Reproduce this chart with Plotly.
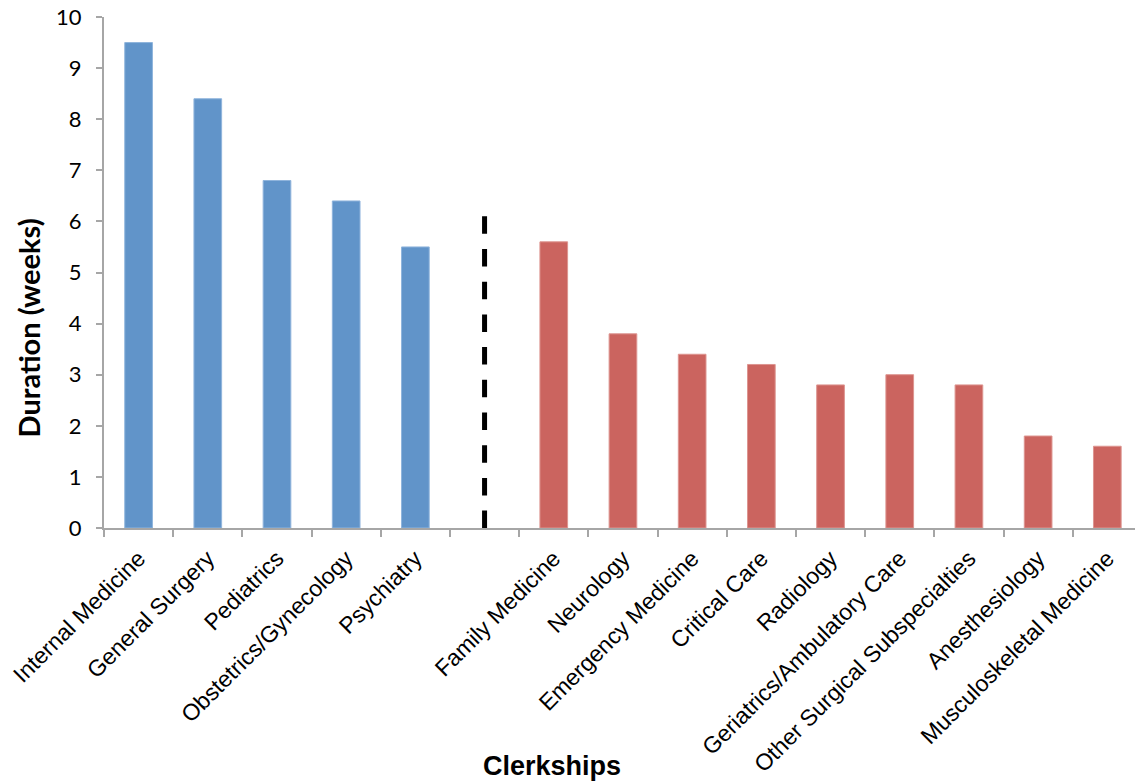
import plotly.graph_objects as go

core = ["Internal Medicine", "General Surgery", "Pediatrics", "Obstetrics/Gynecology", "Psychiatry"]
core_vals = [9.5, 8.4, 6.8, 6.4, 5.5]
gap_cat = " "
other = ["Family Medicine", "Neurology", "Emergency Medicine", "Critical Care", "Radiology",
         "Geriatrics/Ambulatory Care", "Other Surgical Subspecialties", "Anesthesiology",
         "Musculoskeletal Medicine"]
other_vals = [5.6, 3.8, 3.4, 3.2, 2.8, 3.0, 2.8, 1.8, 1.6]
divider_top = 6.1
y_ticks = list(range(0, 11))

categories = core + [gap_cat] + other

BLUE = "#6194c9"
RED = "#cb645f"
AXIS = "#a6a6a6"

fig = go.Figure()
fig.add_trace(go.Bar(x=core, y=core_vals, marker=dict(color=BLUE, line=dict(color="#8fb4dc", width=1)),
                     width=0.4, showlegend=False))
fig.add_trace(go.Bar(x=other, y=other_vals, marker=dict(color=RED, line=dict(color="#dd9590", width=1)),
                     width=0.4, showlegend=False))
fig.add_trace(go.Scatter(x=[gap_cat, gap_cat], y=[divider_top, 0], mode="lines",
                         line=dict(color="black", width=5, dash="17.5px,15.2px"), showlegend=False))

fig.update_layout(
    width=1135, height=783,
    margin=dict(l=104, r=0, t=17, b=255),
    plot_bgcolor="white", paper_bgcolor="white",
    barmode="overlay",
    xaxis=dict(type="category", categoryorder="array", categoryarray=categories,
               range=[-0.5, 14.4], tickson="boundaries", ticks="outside", ticklen=7,
               tickcolor=AXIS, tickwidth=2, showline=True, linecolor=AXIS, linewidth=2,
               tickangle=-45, showgrid=False, zeroline=False, ticklabelstandoff=6,
               tickfont=dict(family="Liberation Sans, Arial", size=23, color="black")),
    yaxis=dict(range=[0, 10], tickvals=y_ticks, ticks="outside", ticklen=6,
               tickcolor=AXIS, tickwidth=2, showline=True, linecolor=AXIS, linewidth=2,
               showgrid=False, zeroline=False, ticklabelstandoff=10,
               tickfont=dict(family="Lato", size=22, color="black")),
    annotations=[
        dict(text="<b>Duration (weeks)</b>", xref="paper", yref="paper", x=-0.0735, y=0.391,
             textangle=-90, showarrow=False, xanchor="center", yanchor="middle",
             font=dict(family="Lato", size=29, color="black")),
        dict(text="<b>Clerkships</b>", xref="paper", yref="paper", x=0.4345, y=-0.466,
             showarrow=False, xanchor="center", yanchor="middle",
             font=dict(family="Liberation Sans, Arial", size=27, color="black")),
    ],
)

fig.write_html("out.html")
